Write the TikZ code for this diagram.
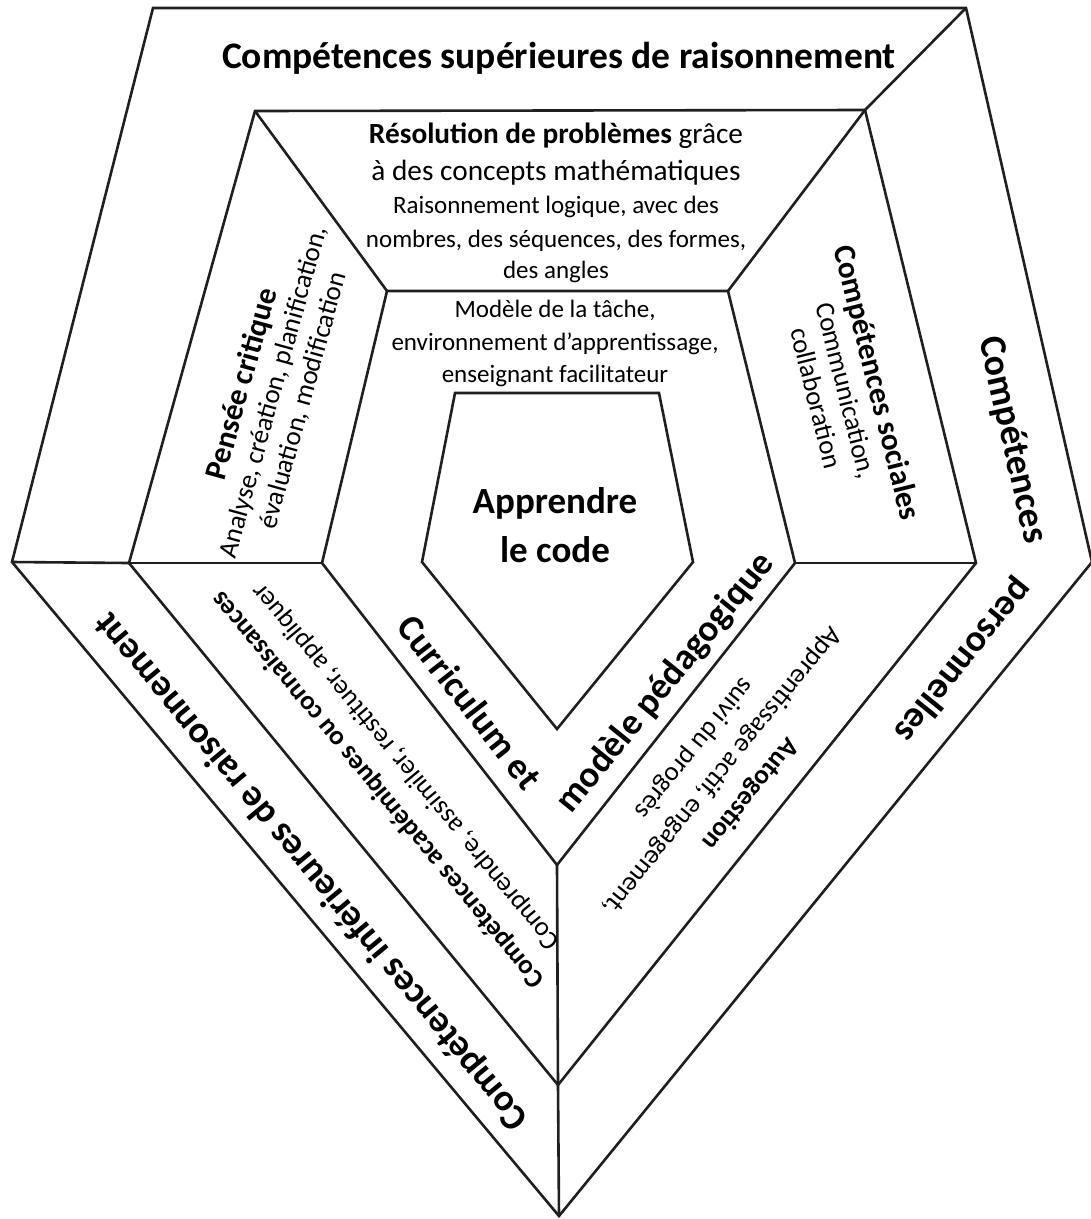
\documentclass[tikz,border=0pt]{standalone}
\usepackage{fontspec}
\setmainfont{Carlito}
\begin{document}
\begin{tikzpicture}[x=1pt,y=-1pt,
  edge/.style={line width=2.6pt, draw=black!88, line join=miter},
  titlef/.style={font=\fontsize{37.5}{44}\selectfont\bfseries},
  midf/.style={font=\fontsize{29.3}{35}\selectfont},
  smallf/.style={font=\fontsize{25}{30}\selectfont},
  sidef/.style={font=\fontsize{27}{31}\selectfont, align=center},
  sidewide/.style={font=\fontsize{27}{36}\selectfont, align=center},
  centref/.style={font=\fontsize{37}{44}\selectfont\bfseries}
]
\useasboundingbox (0,0) rectangle (1091,1219);
\fill[white] (0,0) rectangle (1091,1219);

% outer pentagon
\coordinate (O1) at (153,8);
\coordinate (O2) at (966,8);
\coordinate (O3) at (1092,562);
\coordinate (O4) at (559,1216);
\coordinate (O5) at (12,562);
% middle pentagon
\coordinate (M1) at (255,111);
\coordinate (M2) at (865,110);
\coordinate (M3) at (976,563);
\coordinate (M4) at (558,1085);
\coordinate (M5) at (129,563);
% inner pentagon
\coordinate (I1) at (387,291);
\coordinate (I2) at (728,291);
\coordinate (I3) at (795,563);
\coordinate (I4) at (557,865);
\coordinate (I5) at (322,563);
% centre pentagon
\coordinate (C1) at (455,393);
\coordinate (C2) at (659,393);
\coordinate (C3) at (693,562);
\coordinate (C4) at (557,729);
\coordinate (C5) at (422,562);

\draw[edge] (O1) -- (O2) -- (O3) -- (O4) -- (O5) -- cycle;
\draw[edge] (M1) -- (M2) -- (M3) -- (M4) -- (M5) -- cycle;
\draw[edge] (I1) -- (I2) -- (I3) -- (I4) -- (I5) -- cycle;
\draw[edge] (C1) -- (C2) -- (C3) -- (C4) -- (C5) -- cycle;
\draw[edge] (O2) -- (M2);
\draw[edge] (O5) -- (M5);
\draw[edge] (O4) -- (M4);
\draw[edge] (M1) -- (I1);
\draw[edge] (M2) -- (I2);
\draw[edge] (M3) -- (I3);
\draw[edge] (M5) -- (I5);
\draw[edge] (M4) -- (I4);

% outer ring
\node[titlef, anchor=base] (sup) at (559,68) {Compétences supérieures de raisonnement};
\node[titlef, rotate=-77.3] (cp1) at (1012,440) {Compétences};
\node[titlef, rotate=231] (cp2) at (963,660) {personnelles};
\node[titlef, rotate=129.6] (inf) at (312,871) {Compétences inférieures de raisonnement};

% middle ring, top
\node[midf, anchor=base] (rp1) at (556,143) {\textbf{Résolution de problèmes} grâce};
\node[midf, anchor=base] (rp2) at (556,180) {à des concepts mathématiques};
\node[smallf, anchor=base] (rp3) at (556,213) {Raisonnement logique, avec des};
\node[smallf, anchor=base] (rp4) at (556,247) {nombres, des séquences, des formes,};
\node[smallf, anchor=base] (rp5) at (556,278) {des angles};

% middle ring, sides
\node[sidef, rotate=74.5] (pc) at (272,392)
  {{\fontsize{31}{31}\selectfont\bfseries Pensée critique}\\Analyse, création, planification,\\évaluation, modification};
\node[sidef, rotate=-76] (cs) at (848,390)
  {{\fontsize{31}{31}\selectfont\bfseries Compétences sociales}\\Communication,\\collaboration};
\node[sidewide, rotate=129.6] (ca) at (392,778)
  {\textbf{Compétences académiques ou connaissances}\\Comprendre, assimiler, restituer, appliquer};
\node[sidewide, rotate=231] (ag) at (722,771)
  {\textbf{Autogestion}\\Apprentissage actif, engagement,\\suivi du progrès};

% inner ring
\node[smallf, anchor=base] (mt1) at (555,317) {Modèle de la tâche,};
\node[smallf, anchor=base] (mt2) at (555,350) {environnement d’apprentissage,};
\node[smallf, anchor=base] (mt3) at (555,382) {enseignant facilitateur};
\node[centref, rotate=-52] (cu) at (470,702) {Curriculum et};
\node[centref, rotate=51] (mp) at (666,683) {modèle pédagogique};

% centre
\node[centref, anchor=base] (ap1) at (555,513) {Apprendre};
\node[centref, anchor=base] (ap2) at (555,562) {le code};
\end{tikzpicture}
\end{document}
